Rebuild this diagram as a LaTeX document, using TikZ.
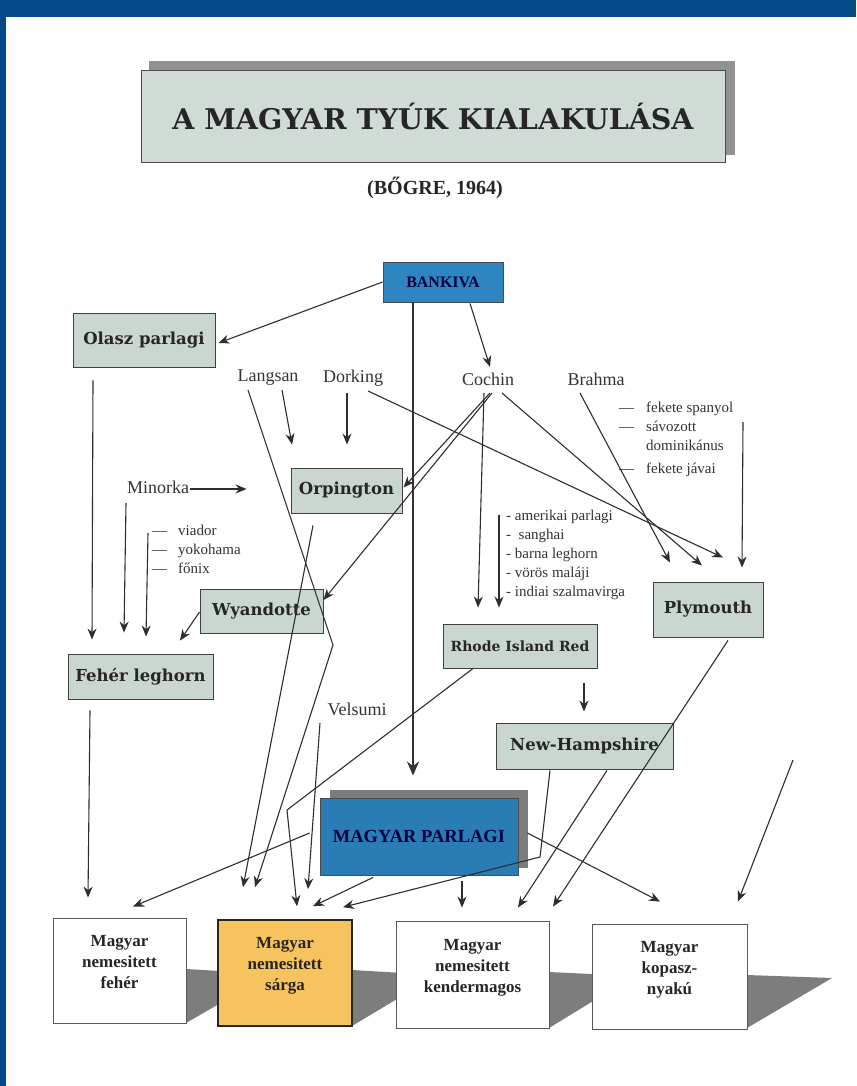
\documentclass[tikz,border=0pt]{standalone}
\usepackage{fontspec}
\setmainfont{Liberation Serif}
\newfontfamily\clar{DejaVu Serif}
\usetikzlibrary{arrows.meta,calc}
\definecolor{barblue}{HTML}{004A87}
\definecolor{boxgreen}{HTML}{CAD7CE}
\definecolor{titlegreen}{HTML}{CFDBD4}
\definecolor{boxblue}{HTML}{2A7CB5}
\definecolor{bankblue}{HTML}{2E85BF}
\definecolor{sargafill}{HTML}{F7C35E}
\definecolor{shadowgray}{HTML}{7D7D7D}
\definecolor{inkdark}{HTML}{262626}
\tikzset{
  greenbox/.style={draw=black!75, line width=0.9pt, fill=boxgreen, inner sep=0pt,
    font=\clar\bfseries\fontsize{16.5}{18}\selectfont, text=inkdark},
  bluebox/.style={draw=black!70, line width=0.9pt, fill=boxblue, inner sep=0pt,
    font=\bfseries\fontsize{18.5}{20}\selectfont, text=black!75!blue},
  whitebox/.style={draw=black!65, line width=0.9pt, fill=white, inner sep=0pt, align=center,
    text depth=18pt, font=\bfseries\fontsize{17}{21}\selectfont, text=inkdark},
  lbl/.style={font=\fontsize{18}{20}\selectfont, text=black!80, inner sep=1pt},
  lst/.style={font=\fontsize{15}{19}\selectfont, text=black!80, align=left, anchor=north west, inner sep=0pt},
  conn/.style={draw=black!82, line width=1.1pt, -{Stealth[length=11pt,width=9pt]}},
  thickconn/.style={draw=black!80, line width=2.4pt, -{Stealth[length=14pt,width=12pt]}}
}
\begin{document}
\begin{tikzpicture}[x=1pt,y=-1pt]
\useasboundingbox (0,0) rectangle (856,1086);
\fill[white] (0,0) rectangle (856,1086);
% frame
\fill[barblue] (0,0) rectangle (856,17);
\fill[barblue] (0,0) rectangle (6,1086);

% shadows
\fill[shadowgray!85] (149,61) rectangle (735,155);
\fill[shadowgray] (330,790) rectangle (528,868);
\fill[shadowgray] (186,969) -- (271,974) -- (186,1023) -- cycle;
\fill[shadowgray] (352,970) -- (437,975) -- (352,1026) -- cycle;
\fill[shadowgray] (549,972) -- (634,976) -- (549,1028) -- cycle;
\fill[shadowgray] (747,975) -- (832,978) -- (747,1028) -- cycle;

% title
\node[draw=black!70, line width=0.9pt, fill=titlegreen, minimum width=584pt, minimum height=92pt, inner sep=0pt,
  font=\clar\bfseries\fontsize{28.5}{30}\selectfont, text=inkdark] (title) at (433,116) {A MAGYAR TYÚK KIALAKULÁSA};
\node[font=\bfseries\fontsize{20}{22}\selectfont, text=inkdark] (src) at (435,188) {(BŐGRE, 1964)};

% boxes
\node[bluebox, fill=bankblue, minimum width=120pt, minimum height=40pt, font=\bfseries\fontsize{16}{18}\selectfont] (bankiva) at (443,282) {BANKIVA};
\node[greenbox, minimum width=142pt, minimum height=54pt] (olasz) at (144,340) {Olasz parlagi};
\node[greenbox, minimum width=111pt, minimum height=45pt] (orp) at (346.5,490.5) {Orpington};
\node[greenbox, minimum width=123pt, minimum height=44pt] (wyan) at (261.5,611) {Wyandotte};
\node[greenbox, minimum width=145pt, minimum height=45pt] (feher) at (140.5,676.5) {Fehér leghorn};
\node[greenbox, minimum width=154pt, minimum height=44pt, font=\clar\bfseries\fontsize{14}{16}\selectfont] (rir) at (520,646) {Rhode Island Red};
\node[greenbox, minimum width=110pt, minimum height=55pt] (ply) at (708,609.5) {Plymouth};
\node[greenbox, minimum width=177pt, minimum height=46pt] (nh) at (584.5,746) {New-Hampshire};
\node[bluebox, minimum width=198pt, minimum height=77pt] (mp) at (419,836.5) {MAGYAR PARLAGI};

\node[whitebox, minimum width=133pt, minimum height=105pt] (mfeher) at (119.5,970.5) {Magyar\\nemesitett\\fehér};
\node[whitebox, fill=sargafill, draw=black!85, line width=1.6pt, minimum width=134pt, minimum height=106pt] (msarga) at (285,973) {Magyar\\nemesitett\\sárga};
\node[whitebox, minimum width=153pt, minimum height=107pt] (mkender) at (472.5,974.5) {Magyar\\nemesitett\\kendermagos};
\node[whitebox, minimum width=155pt, minimum height=105pt] (mkopasz) at (669.5,976.5) {Magyar\\kopasz-\\nyakú};

% labels
\node[lbl] (langsan) at (268,378) {Langsan};
\node[lbl] (dorking) at (353,378) {Dorking};
\node[lbl] (cochin) at (488,379) {Cochin};
\node[lbl] (brahma) at (596,379) {Brahma};
\node[lbl] (minorka) at (158,487) {Minorka};
\node[lbl] (velsumi) at (357,709) {Velsumi};

\node[lst] (listL) at (152,525) {—\hspace{11pt}viador\\—\hspace{11pt}yokohama\\—\hspace{11pt}főnix};
\node[lst] (listM) at (506,510) {- amerikai parlagi\\-\enspace sanghai\\- barna leghorn\\- vörös maláji\\- indiai szalmavirga};
\node[lst] (listR) at (619,402) {—\hspace{12pt}fekete spanyol\\—\hspace{12pt}sávozott\\\phantom{—}\hspace{12pt}dominikánus\\[4pt]—\hspace{12pt}fekete jávai};

% bend / free coordinates
\coordinate (kz1) at (333,645);
\coordinate (kz2) at (287,810);
\coordinate (kz3) at (540,857);
\coordinate (free1) at (793,760);

% connectors
\draw[conn] (bankiva.west) -- ($(olasz.east)+(3,3)$);
\draw[thickconn] ($(bankiva.south)+(-30,0)$) -- ($(mp.north)+(-6,-22)$);
\draw[conn] ($(bankiva.south)+(27,1)$) -- ($(cochin)+(2,-12)$);
\draw[conn] ($(olasz.south)+(-51,13)$) -- ($(feher.north)+(-48.5,-14)$);
\draw[conn] ($(langsan)+(14,12)$) -- ($(orp.north)+(-54.5,-23)$);
\draw[conn] ($(dorking)+(-6,15)$) -- ($(orp.north)+(0.5,-23)$);
\draw[conn] ($(langsan)+(-20,12)$) -- (kz1) -- ($(msarga.north)+(-30,-32)$);
\draw[conn] ($(dorking)+(15,13)$) -- ($(ply.north)+(15,-24)$);
\draw[conn] ($(cochin)+(2,14)$) -- ($(orp.east)+(1,-3)$);
\draw[conn] ($(cochin)+(4,14)$) -- ($(wyan.east)+(0,-11)$);
\draw[conn] ($(cochin)+(-4,14)$) -- ($(rir.north)+(-42,-16)$);
\draw[conn] ($(listM.north west)+(-7,5)$) -- ($(rir.north)+(-21,-16)$);
\draw[conn] ($(cochin)+(14,14)$) -- ($(ply.north)+(-6,-16)$);
\draw[conn] ($(brahma)+(-16,14)$) -- ($(ply.north)+(-38,-19)$);
\draw[conn] ($(listR.north west)+(124,20)$) -- ($(ply.north)+(34,-14)$);
\draw[conn] ($(minorka.east)+(0,2)$) -- ($(orp.west)+(-44,-1.5)$);
\draw[conn] ($(minorka)+(-32,16)$) -- ($(feher.north)+(-16.5,-21)$);
\draw[conn] ($(listL.north west)+(-4,8)$) -- ($(feher.north)+(5.5,-17)$);
\draw[conn] ($(wyan.west)+(0,1)$) -- ($(feher.north)+(39.5,-13)$);
\draw[conn] ($(orp.south)+(-33.5,12)$) -- ($(msarga.north)+(-42,-32)$);
\draw[conn] ($(feher.south)+(-50.5,11)$) -- ($(mfeher.north)+(-31.5,-20)$);
\draw[conn] ($(velsumi)+(-37,14)$) -- ($(msarga.north)+(23,-30)$);
\draw[conn] ($(rir.south)+(-47,0)$) -- (kz2) -- ($(msarga.north)+(12,-13)$);
\draw[conn] ($(mp.west)+(-10,-3.5)$) -- ($(mfeher.north)+(13.5,-11)$);
\draw[conn] ($(mp.south)+(-46,2)$) -- ($(msarga.north)+(28,-13)$);
\draw[conn] ($(nh.south)+(-34.5,1)$) -- (kz3) -- ($(msarga.north)+(58,-12)$);
\draw[conn] ($(mp.south)+(43,6)$) -- ($(mkender.north)+(-10.5,-13)$);
\draw[conn] ($(nh.south)+(22.5,1)$) -- ($(mkender.north)+(45.5,-13)$);
\draw[conn] ($(ply.south)+(20,3)$) -- ($(mkender.north)+(80.5,-14)$);
\draw[conn] ($(mp.east)+(9,-3.5)$) -- ($(mkopasz.north)+(-9.5,-22)$);
\draw[conn] (free1) -- ($(mkopasz.north)+(68.5,-22)$);
\draw[conn] ($(rir.south)+(64,15)$) -- ($(nh.north)+(-0.5,-11)$);
\end{tikzpicture}
\end{document}
